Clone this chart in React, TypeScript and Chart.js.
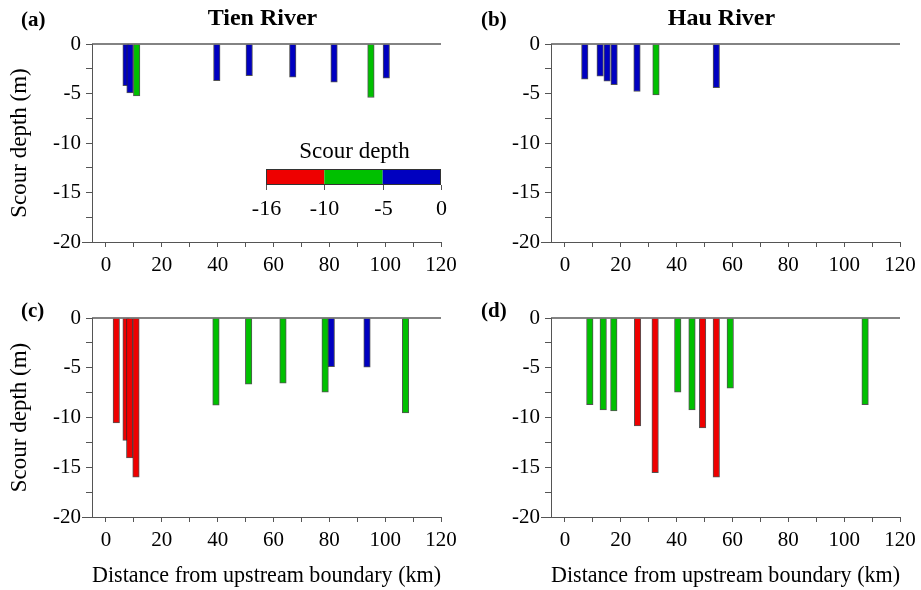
import React, { useEffect, useRef } from "react";
import { Chart, registerables } from "chart.js";

Chart.register(...registerables);

// Bar positions along the river (km) and scour depths (m)
const tienLowKm = [7.2, 8.6, 11.0, 39.7, 51.3, 66.9, 81.7, 94.9, 100.4];
const tienLowDepth = [-4.2, -4.95, -5.25, -3.7, -3.2, -3.35, -3.85, -5.4, -3.45];

const hauLowKm = [7.1, 12.6, 15.1, 17.6, 25.8, 32.6, 54.2];
const hauLowDepth = [-3.55, -3.25, -3.75, -4.1, -4.8, -5.15, -4.4];

const tienHighKm = [3.7, 7.2, 8.5, 10.75, 39.4, 51.1, 63.4, 78.5, 80.7, 93.5, 107.3];
const tienHighDepth = [-10.55, -12.3, -14.05, -16.0, -8.75, -6.65, -6.55, -7.45, -4.9, -4.95, -9.55];

const hauHighKm = [8.9, 13.7, 17.5, 26.0, 32.3, 40.4, 45.5, 49.3, 54.2, 59.2, 107.5];
const hauHighDepth = [-8.7, -9.25, -9.35, -10.85, -15.55, -7.45, -9.25, -11.05, -16.0, -7.05, -8.7];

// Axis ticks
const xTickValues = [0, 10, 20, 30, 40, 50, 60, 70, 80, 90, 100, 110, 120];
const yTickValues = [-20, -17.5, -15, -12.5, -10, -7.5, -5, -2.5, 0];

// Colour classes of the scour-depth legend
const legendBreaks = [-16, -10, -5, 0];
const legendColors = ["#ee0000", "#00c000", "#0000c0"];

const FONT = "'Liberation Serif', 'Times New Roman', serif";
const AXIS_COLOR = "#555555";

function colorFor(v: number): string {
  for (let i = 1; i < legendBreaks.length; i++) {
    if (v < legendBreaks[i]) return legendColors[i - 1];
  }
  return legendColors[legendColors.length - 1];
}

type PanelSpec = {
  letter: string;
  heading?: string;
  km: number[];
  depth: number[];
  left: number;
  top: number;
  width: number;
  height: number;
  yAxisWidth: number;
  padTop: number;
  padRight: number;
  xAxisHeight: number;
  letterY: number;
  yTitle: boolean;
  xTitle: boolean;
  legend: boolean;
};

function drawLegend(ctx: CanvasRenderingContext2D, a: { left: number; right: number; top: number; bottom: number }) {
  const barW = 175;
  const barH = 16;
  const x0 = a.right - barW;
  const y0 = a.top + 125;
  const seg = barW / legendColors.length;

  ctx.fillStyle = "#000";
  ctx.font = `23px ${FONT}`;
  ctx.textAlign = "center";
  ctx.textBaseline = "middle";
  ctx.fillText("Scour depth", x0 + barW / 2 + 1, y0 - 17);

  legendColors.forEach((c, i) => {
    ctx.fillStyle = c;
    ctx.fillRect(x0 + i * seg, y0, seg, barH);
  });
  ctx.strokeStyle = "#333";
  ctx.lineWidth = 1;
  ctx.strokeRect(x0 + 0.5, y0 + 0.5, barW - 1, barH - 1);

  ctx.strokeStyle = AXIS_COLOR;
  ctx.font = `22px ${FONT}`;
  ctx.fillStyle = "#000";
  legendBreaks.forEach((b, i) => {
    const x = Math.round(x0 + i * seg) + 0.5;
    ctx.beginPath();
    ctx.moveTo(x, y0 + barH);
    ctx.lineTo(x, y0 + barH + 5);
    ctx.stroke();
    ctx.fillText(String(b), x, y0 + barH + 24);
  });
}

function Panel({ spec }: { spec: PanelSpec }) {
  const ref = useRef<HTMLCanvasElement | null>(null);

  useEffect(() => {
    if (!ref.current) return;

    const decor = {
      id: "panelDecor",
      afterDatasetsDraw(chart: any) {
        const { ctx, chartArea: a } = chart;
        ctx.save();
        // zero line along the top of the plot
        ctx.strokeStyle = "#5a5a5a";
        ctx.lineWidth = 1.5;
        ctx.beginPath();
        ctx.moveTo(a.left, a.top);
        ctx.lineTo(a.right, a.top);
        ctx.stroke();
        // bottom axis runs a little past the vertical axis
        ctx.strokeStyle = AXIS_COLOR;
        ctx.lineWidth = 1;
        ctx.beginPath();
        ctx.moveTo(a.left - 10, Math.round(a.bottom) + 0.5);
        ctx.lineTo(a.left, Math.round(a.bottom) + 0.5);
        ctx.stroke();
        // panel letter and heading
        ctx.fillStyle = "#000";
        ctx.font = `bold 21px ${FONT}`;
        ctx.textBaseline = "middle";
        ctx.textAlign = "left";
        ctx.fillText(`(${spec.letter})`, 21, spec.letterY);
        if (spec.heading) {
          ctx.font = `bold 24px ${FONT}`;
          ctx.textAlign = "center";
          ctx.fillText(spec.heading, (a.left + a.right) / 2 - 4, spec.letterY - 2);
        }
        if (spec.legend) drawLegend(ctx, a);
        ctx.restore();
      },
    };

    const tickFont = { family: FONT, size: 21 };
    const titleFont = { family: FONT, size: 23 };

    const chart = new Chart(ref.current, {
      type: "bar",
      data: {
        datasets: [
          {
            data: spec.km.map((x, i) => ({ x, y: spec.depth[i] })),
            backgroundColor: spec.depth.map(colorFor),
            borderColor: "rgba(40,40,40,0.8)",
            borderWidth: 1,
            barThickness: 6.5,
          },
        ],
      },
      options: {
        animation: false,
        responsive: false,
        maintainAspectRatio: false,
        layout: { padding: { top: spec.padTop, right: spec.padRight, left: 0, bottom: 0 } },
        plugins: { legend: { display: false }, tooltip: { enabled: false } },
        scales: {
          x: {
            type: "linear",
            min: -5,
            max: 120,
            offset: false,
            afterBuildTicks: (s: any) => {
              s.ticks = xTickValues.map((v) => ({ value: v }));
            },
            afterFit: (s: any) => {
              s.height = spec.xAxisHeight;
              s.paddingLeft = 0;
              s.paddingRight = 0;
            },
            ticks: {
              autoSkip: false,
              maxRotation: 0,
              color: "#000",
              font: tickFont,
              padding: 6,
              callback: (v: any) => (Number(v) % 20 === 0 ? String(v) : ""),
            },
            grid: { drawOnChartArea: false, drawTicks: true, tickLength: 5, color: AXIS_COLOR, offset: false },
            border: { color: AXIS_COLOR, width: 1 },
            title: {
              display: spec.xTitle,
              text: "Distance from upstream boundary (km)",
              color: "#000",
              font: titleFont,
              padding: { top: 0, bottom: 0 },
            },
          },
          y: {
            type: "linear",
            min: -20,
            max: 0,
            afterBuildTicks: (s: any) => {
              s.ticks = yTickValues.map((v) => ({ value: v }));
            },
            afterFit: (s: any) => {
              s.width = spec.yAxisWidth;
              s.paddingTop = 0;
              s.paddingBottom = 0;
            },
            ticks: {
              autoSkip: false,
              color: "#000",
              font: tickFont,
              padding: 5,
              callback: (v: any) => (Number(v) % 5 === 0 ? String(v) : ""),
            },
            grid: { drawOnChartArea: false, drawTicks: true, tickLength: 6, color: AXIS_COLOR },
            border: { color: AXIS_COLOR, width: 1 },
            title: {
              display: spec.yTitle,
              text: "Scour depth (m)",
              color: "#000",
              font: titleFont,
              padding: { top: 6, bottom: 0 },
            },
          },
        },
      },
      plugins: [decor],
    });

    return () => chart.destroy();
  }, [spec]);

  return (
    <canvas
      ref={ref}
      width={spec.width}
      height={spec.height}
      style={{ position: "absolute", left: spec.left, top: spec.top, width: spec.width, height: spec.height }}
    />
  );
}

const panels: PanelSpec[] = [
  {
    letter: "a", heading: "Tien River", km: tienLowKm, depth: tienLowDepth,
    left: 0, top: 0, width: 460, height: 290,
    yAxisWidth: 92, padTop: 44, padRight: 19, xAxisHeight: 48, letterY: 21,
    yTitle: true, xTitle: false, legend: true,
  },
  {
    letter: "b", heading: "Hau River", km: hauLowKm, depth: hauLowDepth,
    left: 460, top: 0, width: 461, height: 290,
    yAxisWidth: 91, padTop: 44, padRight: 21, xAxisHeight: 48, letterY: 21,
    yTitle: false, xTitle: false, legend: false,
  },
  {
    letter: "c", km: tienHighKm, depth: tienHighDepth,
    left: 0, top: 290, width: 460, height: 300,
    yAxisWidth: 92, padTop: 28, padRight: 19, xAxisHeight: 73, letterY: 22,
    yTitle: true, xTitle: true, legend: false,
  },
  {
    letter: "d", km: hauHighKm, depth: hauHighDepth,
    left: 460, top: 290, width: 461, height: 300,
    yAxisWidth: 91, padTop: 28, padRight: 21, xAxisHeight: 73, letterY: 22,
    yTitle: false, xTitle: true, legend: false,
  },
];

export default function App() {
  return (
    <div style={{ position: "absolute", left: 0, top: 0, width: 921, height: 590, background: "#fff" }}>
      {panels.map((p) => (
        <Panel key={p.letter} spec={p} />
      ))}
    </div>
  );
}
